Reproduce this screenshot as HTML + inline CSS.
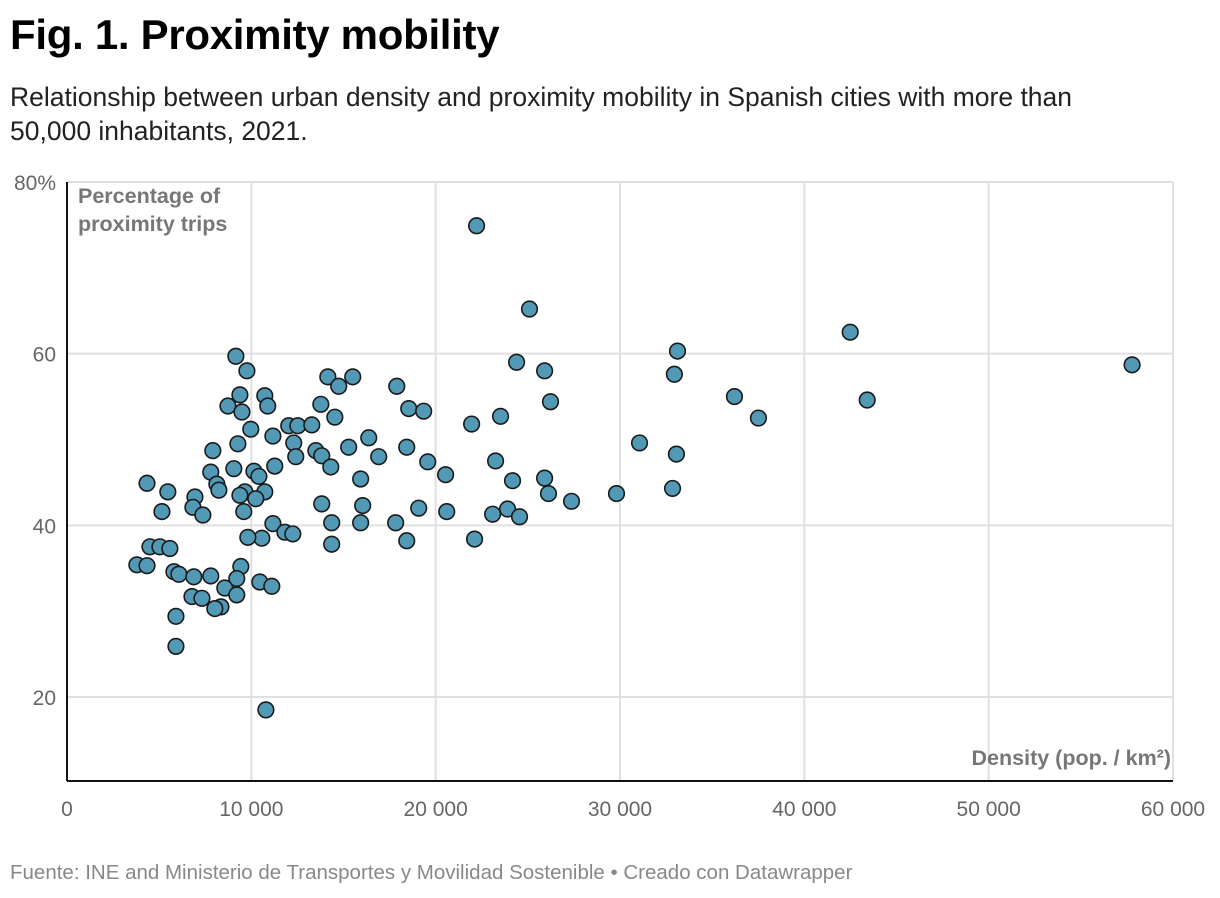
<!DOCTYPE html>
<html><head><meta charset="utf-8"><style>
body{margin:0;background:#fff;width:1220px;height:898px;overflow:hidden;font-family:"Liberation Sans",sans-serif}
.t{position:absolute;left:10px;top:11px;font-size:42px;font-weight:bold;color:#000;letter-spacing:-0.3px}
.s{position:absolute;left:10px;top:80px;font-size:26.5px;line-height:34px;color:#222;width:1130px}
.f{position:absolute;left:10px;top:861px;font-size:20.5px;color:#888}
svg{position:absolute;left:0;top:0}
</style></head><body>
<div class="t">Fig. 1. Proximity mobility</div>
<div class="s">Relationship between urban density and proximity mobility in Spanish cities with more than 50,000 inhabitants, 2021.</div>
<svg id="c" width="1220" height="898"></svg>
<div class="f">Fuente: INE and Ministerio de Transportes y Movilidad Sostenible • Creado con Datawrapper</div>
<script>
const xTicks=[0,10000,20000,30000,40000,50000,60000];
const xTickLabels=["0","10 000","20 000","30 000","40 000","50 000","60 000"];
const yTicks=[20,40,60,80];
const yTickLabels=["20","40","60","80%"];
const density=[22220,25090,42490,33120,57780,9160,9760,24390,25910,32950,14150,15500,14740,17890,9380,10730,36210,43410,8730,10890,9490,13770,26230,18540,19350,14530,23520,37510,21950,9970,12030,12520,13280,11170,16370,31060,9270,12300,15280,18430,7910,13500,33060,12410,13820,16910,23250,19570,11270,14310,9050,10140,7800,10410,20540,15930,25910,24170,4340,8130,8240,5470,9650,10730,9380,26120,29810,32850,6940,10240,27370,13820,16040,19080,6830,23900,5150,9590,20600,23090,7370,24550,17830,11170,14360,15930,11820,12250,10570,9810,22110,18430,14360,4500,5040,5580,3790,4340,9430,5800,6070,6880,7800,9210,10460,11110,8560,6780,7320,9210,8350,8020,5910,5910,10790];
const proximity=[74.9,65.2,62.5,60.3,58.7,59.7,58.0,59.0,58.0,57.6,57.3,57.3,56.2,56.2,55.2,55.1,55.0,54.6,53.9,53.9,53.2,54.1,54.4,53.6,53.3,52.6,52.7,52.5,51.8,51.2,51.6,51.6,51.7,50.4,50.2,49.6,49.5,49.6,49.1,49.1,48.7,48.7,48.3,48.0,48.1,48.0,47.5,47.4,46.9,46.8,46.6,46.3,46.2,45.7,45.9,45.4,45.5,45.2,44.9,44.8,44.1,43.9,43.9,43.9,43.5,43.7,43.7,44.3,43.3,43.1,42.8,42.5,42.3,42.0,42.1,41.9,41.6,41.6,41.6,41.3,41.2,41.0,40.3,40.2,40.3,40.3,39.2,39.0,38.5,38.6,38.4,38.2,37.8,37.5,37.5,37.3,35.4,35.3,35.2,34.6,34.3,34.0,34.1,33.8,33.4,32.9,32.7,31.7,31.5,31.9,30.5,30.3,29.4,25.9,18.5];
const NS='http://www.w3.org/2000/svg';
const svg=document.getElementById('c');
const X0=67,X1=1173,Y80=182,Y20=697,YB=781;
const sx=v=>X0+v/60000*(X1-X0);
const sy=v=>Y20-(v-20)/60*(Y20-Y80);
function mk(t,a){const e=document.createElementNS(NS,t);for(const k in a)e.setAttribute(k,a[k]);svg.appendChild(e);return e;}
xTicks.forEach((v,i)=>{
 if(v>0){const g=mk('line',{x1:sx(v),x2:sx(v),y1:Y80,y2:YB,stroke:'#e0e0e0','stroke-width':2});
 
 }
 const t=mk('text',{x:sx(v),y:816,'text-anchor':'middle','font-size':21,fill:'#666'});
 t.textContent=xTickLabels[i];
 
 
});
yTicks.forEach((v,i)=>{
 const g=mk('line',{x1:X0,x2:X1,y1:sy(v),y2:sy(v),stroke:'#e0e0e0','stroke-width':2});
 
 
 const t=mk('text',{x:56,y:sy(v)+8,'text-anchor':'end','font-size':21,fill:'#666'});
 t.textContent=yTickLabels[i];
 
 
});
let a=mk('line',{x1:X0,x2:X0,y1:Y80,y2:YB,stroke:'#111','stroke-width':2});


a=mk('line',{x1:X0,x2:X1,y1:YB,y2:YB,stroke:'#111','stroke-width':2});


let t=mk('text',{x:78,y:203,'font-size':21.5,'font-weight':'bold',fill:'#777'});t.textContent='Percentage of';


t=mk('text',{x:78,y:231,'font-size':21.5,'font-weight':'bold',fill:'#777'});t.textContent='proximity trips';


t=mk('text',{x:1171,y:765,'text-anchor':'end','font-size':21.5,'font-weight':'bold',fill:'#777'});t.textContent='Density (pop. / km²)';


density.forEach((d,i)=>{
 const c=mk('circle',{cx:sx(d),cy:sy(proximity[i]),r:7.8,fill:'#5299b6',stroke:'#1a1a1a','stroke-width':1.6});
 
 
});
</script>
</body></html>
